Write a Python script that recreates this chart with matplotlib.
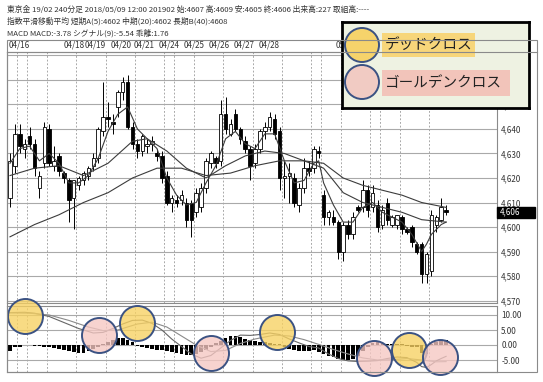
import matplotlib
matplotlib.use('Agg')
import matplotlib.pyplot as plt
import matplotlib.transforms as mtrans
from matplotlib.patches import Rectangle, Circle
from matplotlib.lines import Line2D

W, H = 543, 382
plt.rcParams['font.family'] = ['Noto Sans CJK JP', 'DejaVu Sans']

# ---------------- data ----------------
date_labels = ['04/16', '04/18', '04/19', '04/20', '04/21', '04/24', '04/25',
               '04/26', '04/27', '04/28', '05/01']
date_pos = [1.8, 13.1, 17.3, 22.6, 27.3, 32.4, 37.5, 42.6, 47.8, 52.9, 68.5]
day_bounds = [1.5, 3.5, 7.5, 13.5, 19.5, 25.5, 31.5, 33.5, 37.5, 43.5, 49.5,
              55.5, 61.5, 63.5, 67.5, 73.5, 75.5, 79.5, 85.5]

opens = [4612, 4625, 4638, 4632, 4637, 4634, 4616, 4626, 4640, 4625,
         4629, 4622, 4619, 4612, 4617, 4619, 4621, 4625, 4628, 4639,
         4645, 4643, 4649, 4655, 4659, 4641, 4634, 4631, 4633, 4634,
         4630, 4629, 4621, 4610, 4611, 4611, 4610, 4610, 4606, 4608,
         4616, 4626, 4628, 4627, 4646, 4638, 4646, 4640, 4635, 4632,
         4626, 4632, 4639, 4641, 4644, 4639, 4620, 4621, 4620, 4609,
         4616, 4624, 4624, 4631, 4613, 4604, 4604, 4602, 4590, 4601,
         4597, 4608, 4608, 4615, 4608, 4609, 4601, 4610, 4601, 4601,
         4604, 4599, 4600, 4593, 4593, 4581, 4582, 4601, 4603, 4607]
highs = [4630, 4642, 4642, 4636, 4641, 4636, 4623, 4643, 4642, 4633,
         4630, 4623, 4620, 4619, 4621, 4623, 4625, 4630, 4641, 4659,
         4651, 4646, 4656, 4661, 4662, 4643, 4636, 4638, 4636, 4637,
         4632, 4631, 4623, 4613, 4613, 4615, 4612, 4611, 4616, 4618,
         4628, 4631, 4629, 4652, 4653, 4644, 4648, 4641, 4637, 4633,
         4634, 4640, 4643, 4647, 4646, 4641, 4627, 4626, 4622, 4618,
         4628, 4627, 4633, 4633, 4615, 4607, 4607, 4603, 4602, 4603,
         4606, 4609, 4619, 4617, 4617, 4611, 4609, 4612, 4605, 4605,
         4605, 4600, 4601, 4594, 4594, 4590, 4607, 4605, 4612, 4609]
lows = [4608, 4622, 4630, 4628, 4632, 4621, 4612, 4624, 4625, 4623,
        4621, 4618, 4602, 4599, 4615, 4617, 4619, 4623, 4626, 4637,
        4641, 4638, 4645, 4652, 4640, 4632, 4628, 4629, 4630, 4631,
        4627, 4618, 4609, 4606, 4608, 4609, 4600, 4596, 4604, 4606,
        4614, 4624, 4624, 4625, 4638, 4637, 4639, 4634, 4630, 4619,
        4624, 4630, 4636, 4639, 4636, 4615, 4612, 4610, 4608, 4606,
        4614, 4621, 4622, 4628, 4601, 4601, 4601, 4587, 4586, 4595,
        4595, 4606, 4606, 4604, 4606, 4598, 4599, 4601, 4600, 4599,
        4597, 4597, 4592, 4589, 4577, 4577, 4580, 4598, 4602, 4605]
closes = [4627, 4638, 4633, 4634, 4634, 4624, 4621, 4641, 4626, 4627,
          4623, 4620, 4611, 4619, 4620, 4622, 4624, 4628, 4640, 4645,
          4644, 4642, 4655, 4659, 4641, 4634, 4631, 4637, 4634, 4635,
          4629, 4620, 4610, 4612, 4610, 4613, 4603, 4603, 4614, 4616,
          4627, 4630, 4626, 4646, 4640, 4642, 4640, 4636, 4632, 4625,
          4632, 4639, 4641, 4645, 4638, 4620, 4621, 4622, 4610, 4616,
          4624, 4623, 4632, 4630, 4604, 4606, 4602, 4590, 4601, 4597,
          4604, 4607, 4615, 4607, 4614, 4600, 4607, 4603, 4604, 4605,
          4599, 4598, 4594, 4590, 4581, 4589, 4605, 4604, 4608, 4606]

ema5_x = [0, 2, 4, 6, 8, 10, 12, 14, 16, 18, 20, 22, 24, 26, 28, 30, 32, 34,
          36, 38, 40, 42, 44, 46, 48, 50, 52, 54, 56, 58, 60, 62, 63, 64, 66,
          68, 70, 72, 74, 76, 78, 80, 82, 84, 85, 86, 88, 89]
ema5_v = [4626, 4632, 4633, 4627, 4630, 4626, 4618, 4618, 4621, 4628, 4639,
          4646, 4649, 4640, 4636, 4632, 4620, 4613, 4609, 4610, 4618, 4625,
          4636, 4639, 4634, 4632, 4638, 4638, 4627, 4618, 4619, 4626, 4627,
          4618, 4609, 4602, 4602, 4608, 4610, 4606, 4604, 4602, 4597, 4590,
          4593, 4597, 4601, 4602]
ema20_x = [0, 5, 10, 15, 20, 25, 28, 32, 36, 40, 44, 48, 52, 56, 60, 64, 68,
           72, 76, 80, 84, 89]
ema20_v = [4621, 4624, 4625, 4621, 4626, 4635, 4636, 4631, 4624, 4620, 4625,
           4629, 4631, 4630, 4627, 4624, 4614, 4610, 4608, 4606, 4603, 4602]
ema40_x = [0, 5, 10, 15, 20, 25, 30, 35, 40, 45, 50, 55, 60, 64, 68, 72, 76,
           80, 84, 89]
ema40_v = [4596, 4601, 4605, 4610, 4614, 4620, 4624, 4624, 4621, 4622, 4625,
           4627, 4627, 4626, 4620, 4617, 4615, 4613, 4610, 4608]

macd_x = [0, 3, 5, 8, 11, 14, 17, 19, 21, 23, 25, 27, 29, 31, 33, 35, 37, 39,
          41, 43, 45, 47, 49, 51, 53, 55, 57, 59, 61, 63, 65, 67, 69, 71, 73,
          75, 77, 79, 81, 83, 84, 85, 86, 87, 88, 89]
macd_v = [10.8, 10.9, 10.6, 9.5, 7.5, 5.5, 4.0, 4.2, 5.5, 7.0, 8.2, 8.3, 7.2,
          5.0, 2.0, -0.5, -3.0, -4.4, -3.5, -1.0, 1.5, 3.3, 3.2, 3.5, 4.0, 3.5,
          2.0, 0.7, -0.5, -1.0, -3.0, -4.5, -5.3, -5.5, -5.4, -5.2, -4.5, -4.0,
          -4.2, -5.8, -7.2, -7.5, -6.5, -5.3, -4.5, -3.78]
sig_x = [0, 4, 8, 12, 16, 19, 22, 26, 29, 32, 35, 38, 41, 44, 47, 50, 54, 57,
         60, 63, 66, 69, 72, 75, 78, 81, 84, 87, 89]
sig_v = [10.7, 10.6, 10.0, 8.2, 6.0, 4.8, 5.0, 7.0, 7.6, 6.0, 3.0, 0.0, -2.2,
         -1.8, 0.5, 2.0, 3.3, 3.0, 1.8, 0.2, -1.5, -3.0, -4.3, -5.0, -4.9,
         -4.5, -5.0, -5.6, -5.54]
hist_v = [-2.0, -0.6, -0.5, 0.0, 0.0, -0.2, -0.4, -0.6, -0.8, -1.0,
          -1.3, -1.6, -2.0, -2.4, -2.6, -2.5, -2.0, -1.4, -0.6, 0.4,
          1.0, 1.6, 2.4, 2.2, 1.8, 1.0, -0.3, -0.6, -0.9, -1.2,
          -1.5, -1.8, -2.1, -2.4, -2.7, -3.0, -3.2, -3.3, -3.0, -2.4,
          -1.6, -0.6, 0.6, 1.5, 2.3, 2.9, 3.0, 2.6, 2.1, 1.6,
          1.3, 1.1, 0.9, 0.8, 0.5, 0.2, -0.6, -1.4, -1.8, -2.0,
          -2.0, -2.0, -1.8, -2.2, -3.0, -3.5, -4.0, -4.5, -5.0, -5.0,
          -4.5, -3.5, -2.0, -0.5, 0.8, 1.0, 0.8, 0.3, 0.3, 0.2,
          0.3, -0.3, -0.5, -0.5, -2.5, -3.0, 0.5, 1.0, 1.3, 1.76]

dead_x = [3.1, 25.9, 54.5, 81.5]
dead_y = [9.8, 7.5, 4.2, -1.7]
gold_x = [18.2, 41.0, 74.2, 87.8]
gold_y = [3.5, -2.5, -4.2, -4.0]

price_ticks = list(range(4570, 4671, 10))
macd_ticks = [-5, 0, 5, 10]

# ---------------- figure ----------------
fig = plt.figure(figsize=(W / 100, H / 100), dpi=100)


def add_axes_px(x0, y0, x1, y1):
    return fig.add_axes([x0 / W, 1 - y1 / H, (x1 - x0) / W, (y1 - y0) / H])


X0, DX = 10.0, 4.9
xmin, xmax = (7 - X0) / DX, (497 - X0) / DX
GRID = '#a9a9a9'
SPINE = '#8a8a8a'
TXT = '#333333'

ax = add_axes_px(7, 52, 497, 303)
axm = add_axes_px(7, 306, 497, 372)

for a in (ax, axm):
    a.set_xlim(xmin, xmax)
    a.set_xticks([])
    for s in a.spines.values():
        s.set_color(SPINE)
        s.set_linewidth(0.8)
    a.yaxis.tick_right()
    a.tick_params(axis='y', length=0, pad=3, labelsize=5.8, labelcolor=TXT)
    for b in day_bounds:
        a.axvline(b, color='#9a9a9a', lw=0.6, ls=(0, (2.2, 2.2)), zorder=0)

ax.set_ylim(4569, 4671.4)
ax.set_yticks(price_ticks)
ax.set_yticklabels([f'{v:,}' for v in price_ticks])
for v in price_ticks:
    ax.axhline(v, color=GRID, lw=0.8, zorder=0)

# candles
for i, (o, h, l, c) in enumerate(zip(opens, highs, lows, closes)):
    ax.vlines(i, l, h, color='black', lw=0.7, zorder=3)
    body = max(abs(c - o), 0.45)
    ax.bar(i, body, bottom=min(o, c), width=0.72,
           facecolor='white' if c >= o else 'black',
           edgecolor='black', lw=0.6, zorder=4)

for xs, vs in ((ema5_x, ema5_v), (ema20_x, ema20_v), (ema40_x, ema40_v)):
    ax.plot(xs, vs, color='#3c3c3c', lw=0.8, zorder=5)

# current price tag
blend = mtrans.blended_transform_factory(ax.transAxes, ax.transData)
last = closes[-1]
ax.add_patch(Rectangle((1.0, last - 2.2), 38 / 490, 4.4, transform=blend,
                       facecolor='black', edgecolor='black', clip_on=False,
                       zorder=6))
ax.text(1.0 + 3 / 490, last, f'{last:,}', transform=blend, color='white',
        fontsize=5.8, va='center', ha='left', clip_on=False, zorder=7)

# MACD panel
axm.set_ylim(-9, 13)
axm.set_yticks(macd_ticks)
axm.set_yticklabels([f'{v:.2f}' for v in macd_ticks])
for v in macd_ticks:
    axm.axhline(v, color=GRID, lw=0.8, zorder=0)
axm.bar(range(len(hist_v)), hist_v, width=0.75, color='black', zorder=3)
axm.plot(macd_x, macd_v, color='#666666', lw=0.8, zorder=4)
axm.plot(sig_x, sig_v, color='#8a8a8a', lw=0.8, zorder=4)

d_px = 35 * 72 / 100
axm.scatter(dead_x, dead_y, s=d_px ** 2, facecolors=[(0.97, 0.82, 0.38, 0.78)],
            edgecolors='#3b5283', linewidths=1.4, zorder=10, clip_on=False)
axm.scatter(gold_x, gold_y, s=d_px ** 2, facecolors=[(0.96, 0.78, 0.76, 0.78)],
            edgecolors='#3b5283', linewidths=1.4, zorder=10, clip_on=False)

# date labels
bt = mtrans.blended_transform_factory(ax.transData, fig.transFigure)
for lab, p in zip(date_labels, date_pos):
    ax.text(p, 1 - 45 / H, lab, transform=bt, fontsize=5.8, color=TXT,
            ha='center', va='center', clip_on=False)

# outer frame and header row line
fig.add_artist(Rectangle((7 / W, 1 - 372 / H), 530 / W, 332 / H,
                         transform=fig.transFigure, fill=False,
                         edgecolor=SPINE, lw=0.8))
fig.add_artist(Line2D([7 / W, 537 / W], [1 - 52 / H, 1 - 52 / H],
                      transform=fig.transFigure, color=SPINE, lw=0.8))

# header texts
o, h, l, c = opens[-1], highs[-1], lows[-1], closes[-1]
hdr = [f'東京金 19/02 240分足 2018/05/09 12:00 201902 始:{o} 高:{h} 安:{l} 終:{c} 出来高:227 取組高:----',
       f'指数平滑移動平均 短期A(5):{ema5_v[-1]} 中期(20):{ema20_v[-1]} 長期B(40):{ema40_v[-1]}',
       f'MACD MACD:{macd_v[-1]:.2f} シグナル(9):{sig_v[-1]:.2f} 乖離:{hist_v[-1]:.2f}']
for k, t in enumerate(hdr):
    fig.text(7 / W, 1 - (10 + 11.5 * k) / H, t, fontsize=5.6, color=TXT,
             ha='left', va='center')

# legend box
axl = add_axes_px(342, 22, 529, 108)
axl.set_xlim(0, 187)
axl.set_ylim(86, 0)
axl.set_xticks([])
axl.set_yticks([])
axl.set_facecolor('#eef2e2')
for s in axl.spines.values():
    s.set_color('black')
    s.set_linewidth(2.0)
axl.add_patch(Rectangle((40, 11), 93, 24, facecolor='#f7d67a', edgecolor='none'))
axl.add_patch(Rectangle((40, 48), 128, 26, facecolor='#f2c4ba', edgecolor='none'))
axl.add_patch(Circle((20, 23), 17, facecolor='#f6d36b', edgecolor='#3b5283', lw=1.4))
axl.add_patch(Circle((20, 60), 17, facecolor='#f1cbc3', edgecolor='#3b5283', lw=1.4))
axl.text(43, 23, 'デッドクロス', fontsize=10.5, va='center', ha='left', color='#222222')
axl.text(43, 61, 'ゴールデンクロス', fontsize=10.5, va='center', ha='left', color='#222222')

fig.savefig('out.png', dpi=100)
